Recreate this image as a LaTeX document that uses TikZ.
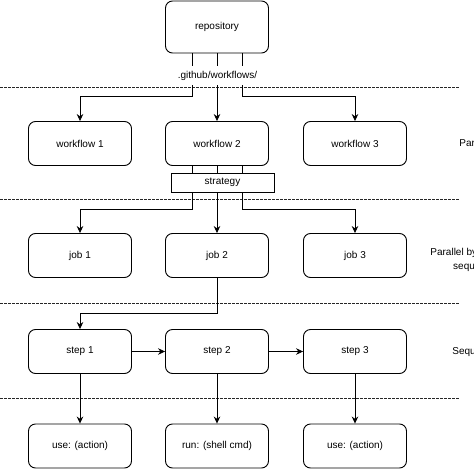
\documentclass[tikz,border=0pt]{standalone}
\usepackage{fontspec}
\setmainfont{Liberation Sans}
\usetikzlibrary{arrows.meta, positioning}

\begin{document}
\begin{tikzpicture}[x=1pt, y=-1pt,
        box/.style={draw, rounded corners=7pt, line width=0.9pt, minimum width=103pt, minimum height=44pt, inner sep=0pt, font=\fontsize{10}{12}\selectfont},
        tag/.style={draw, fill=white, line width=0.9pt, minimum width=103pt, minimum height=19pt, inner sep=0pt, font=\fontsize{10}{12}\selectfont},
        lbl/.style={fill=white, inner xsep=1pt, inner ysep=0pt, minimum height=19pt, font=\fontsize{10}{12}\selectfont},
        layer/.style={align=center, font=\fontsize{10}{14}\selectfont},
        sep/.style={dash pattern=on 2.5pt off 1.5pt, line width=0.8pt, black!85},
        arr/.style={-{Stealth[length=7pt, width=6.5pt]}, line width=0.8pt}
    ]
        \clip (0,0) rectangle (474,474);
        \useasboundingbox (0,0) rectangle (474,474);

        % Separators
        \foreach \y in {87,199,303,398}
            \draw[sep] (0,\y) -- (460,\y);

        % Repository
        \node[box, minimum height=52pt] (repo) at (217,27) {repository};

        % Workflows
        \node[box] (wf1) at (80,143.5) {workflow 1};
        \node[box] (wf2) at (217,143.5) {workflow 2};
        \node[box] (wf3) at (355,143.5) {workflow 3};

        % Jobs
        \node[box] (job1) at (80,255.5) {job 1};
        \node[box] (job2) at (217,255.5) {job 2};
        \node[box] (job3) at (355,255.5) {job 3};

        % Steps
        \node[box] (step1) at (80,351.5) {step 1};
        \node[box] (step2) at (217,351.5) {step 2};
        \node[box] (step3) at (355,351.5) {step 3};

        % Step contents
        \node[box] (run1) at (80,446) {use: (action)};
        \node[box] (run2) at (217,446) {run: (shell cmd)};
        \node[box] (run3) at (355,446) {use: (action)};

        % Connections
        \draw[arr] ([xshift=-25pt]repo.south) -- ++(0,43) -| (wf1.north);
        \draw[arr] (repo.south) -- (wf2.north);
        \draw[arr] ([xshift=25pt]repo.south) -- ++(0,43) -| (wf3.north);

        \draw[arr] ([xshift=-25pt]wf2.south) -- ++(0,43) -| (job1.north);
        \draw[arr] (wf2.south) -- (job2.north);
        \draw[arr] ([xshift=25pt]wf2.south) -- ++(0,43) -| (job3.north);

        \draw[arr] (job2.south) -- ++(0,35) -| (step1.north);
        \draw[arr] (step1) -- (step2);
        \draw[arr] (step2) -- (step3);

        \foreach \i in {1,2,3}
            \draw[arr] (step\i) -- (run\i);

        % Edge labels
        \node[lbl] (path) at (217.5,75.5) {.github/workflows/};
        \node[tag] (strat) at (222.5,182.5) {strategy};

        % Layer Labels
        \node[layer] (par) at (476,143) {Parallel};
        \node[layer] (parseq) at (476,260) {Parallel by default or\\sequential};
        \node[layer] (seq) at (476,352) {Sequential};
    \end{tikzpicture}
\end{document}
